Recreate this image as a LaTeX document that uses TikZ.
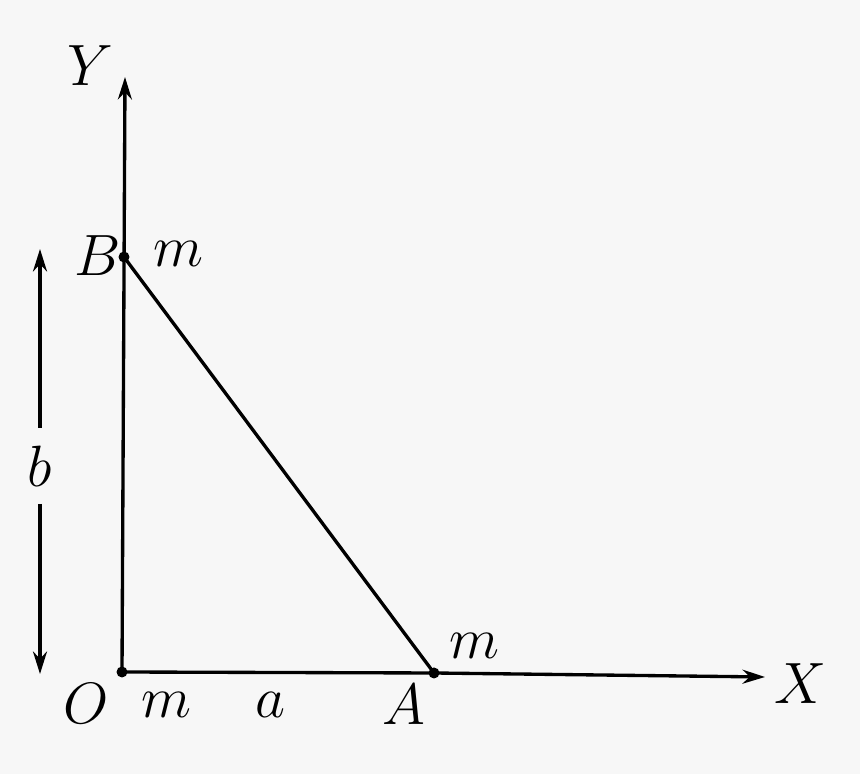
\documentclass[tikz,border=0pt]{standalone}
\usepackage{tikz}
\usepackage{amsmath}
\usetikzlibrary{arrows.meta}
\definecolor{paper}{HTML}{F7F7F7}

\begin{document}
\begin{tikzpicture}[x=0.02cm, y=0.02cm, line width=1.9pt,
        every node/.style={font=\huge, inner sep=0pt, outer sep=0pt},
        lab/.style={scale=1.6},
        axis/.style={-{Stealth[length=0.45cm, width=0.28cm]}},
        mass/.style={circle, fill=black, minimum size=0.22cm}]
        \fill[paper] (0,0) rectangle (860,774);
        \node[mass](O) at (122, 102) {};
        \node[mass](B) at (124, 517) {};
        \node[mass](A) at (434, 101) {};
        \coordinate (ytip) at (125, 697);
        \coordinate (xtip) at (765, 97);

        \node[lab](Ylab) at (90, 708) {$Y$};
        \node[lab](Xlab) at (800, 90) {$X$};
        \node[lab](Olab) at (86, 70) {$O$};
        \node[lab](Blab) at (98, 518) {$B$};
        \node[lab](Alab) at (404, 69) {$A$};
        \node[lab](mB) at (178, 520) {$m$};
        \node[lab](mA) at (474, 128) {$m$};
        \node[lab](mO) at (166, 69) {$m$};
        \node[lab](alab) at (270, 69) {$a$};

        % dimension b
        \node[lab, minimum height=0.95cm](blab) at (40, 308) {$b$};
        \coordinate (btop) at (40, 525);
        \coordinate (bbot) at (40, 100);

        \draw[axis] (O.center) -- (ytip);
        \draw[axis] (O.center) -- (A.center) -- (xtip);
        \draw (B.center) -- (A.center);
        \draw[axis] (blab.north) -- (btop);
        \draw[axis] (blab.south) -- (bbot);
    \end{tikzpicture}
\end{document}
